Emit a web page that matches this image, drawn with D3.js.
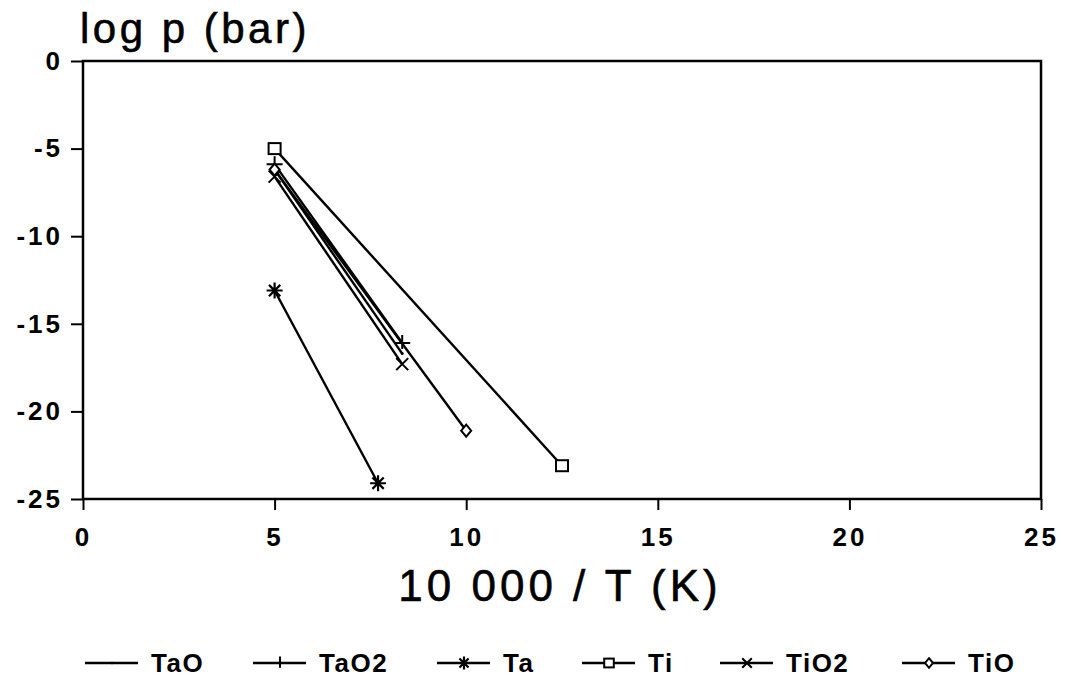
<!DOCTYPE html>
<html>
<head>
<meta charset="utf-8">
<script src="https://cdn.jsdelivr.net/npm/d3@7/dist/d3.min.js"></script>
<style>
  html, body { margin: 0; padding: 0; background: #fff; }
  svg { display: block; }
  text { font-family: "Liberation Sans", Arial, Helvetica, sans-serif; fill: #000; }
</style>
</head>
<body>
<svg id="chart" width="1067" height="681"></svg>
<script>
// Vapour pressure of Ta / Ti species vs reciprocal temperature
const seriesNames = ["TaO", "TaO2", "Ta", "Ti", "TiO2", "TiO"];
const invT_TaO  = [5, 8.33];   const logp_TaO  = [-6.2, -16.7];
const invT_TaO2 = [5, 8.33];   const logp_TaO2 = [-5.9, -16.1];
const invT_Ta   = [5, 7.7];    const logp_Ta   = [-13.1, -24.1];
const invT_Ti   = [5, 12.5];   const logp_Ti   = [-5.0, -23.1];
const invT_TiO2 = [5, 8.33];   const logp_TiO2 = [-6.6, -17.3];
const invT_TiO  = [5, 10];     const logp_TiO  = [-6.2, -21.1];
const markers   = ["dot", "plus", "asterisk", "square", "cross", "diamond"];
const xTicks = [0, 5, 10, 15, 20, 25];
const yTicks = [0, -5, -10, -15, -20, -25];

const xs = [invT_TaO, invT_TaO2, invT_Ta, invT_Ti, invT_TiO2, invT_TiO];
const ys = [logp_TaO, logp_TaO2, logp_Ta, logp_Ti, logp_TiO2, logp_TiO];
const series = seriesNames.map((name, i) => ({
  name, marker: markers[i],
  pts: xs[i].map((x, j) => ({ x, y: ys[i][j] }))
}));

const svg = d3.select("#chart");
const plot = { left: 83, right: 1041, top: 61, bottom: 499 };

const x = d3.scaleLinear().domain([0, 25]).range([plot.left, plot.right]);
const y = d3.scaleLinear().domain([-25, 0]).range([plot.bottom, plot.top]);

// Axes
const xAxis = d3.axisBottom(x).tickValues(xTicks).tickSize(11).tickPadding(22).tickFormat(d3.format("d"));
const yAxis = d3.axisLeft(y).tickValues(yTicks).tickSize(12).tickPadding(8).tickFormat(d => d === 0 ? "0" : "-" + Math.abs(d));

const gx = svg.append("g").attr("transform", `translate(0,${plot.bottom})`).call(xAxis);
const gy = svg.append("g").attr("transform", `translate(${plot.left},0)`).call(yAxis);
[gx, gy].forEach(g => {
  g.select(".domain").remove();
  g.selectAll(".tick line").attr("stroke", "#000").attr("stroke-width", 2);
  g.selectAll(".tick text")
    .style("font-size", "26px").style("font-weight", "bold")
    .style("letter-spacing", "3px").attr("fill", "#000");
});
gx.selectAll(".tick text").attr("dy", "0.55em");

// Frame
svg.append("rect")
  .attr("x", plot.left).attr("y", plot.top)
  .attr("width", plot.right - plot.left).attr("height", plot.bottom - plot.top)
  .attr("fill", "none").attr("stroke", "#000").attr("stroke-width", 2.5);

// Titles
svg.append("text").attr("x", 80).attr("y", 43)
  .style("font-size", "42px").style("letter-spacing", "3.5px")
  .style("stroke", "#000").style("stroke-width", "0.6px")
  .text("log p (bar)");
svg.append("text").attr("x", 560).attr("y", 601).attr("text-anchor", "middle")
  .style("font-size", "44px").style("letter-spacing", "4px")
  .style("stroke", "#000").style("stroke-width", "0.6px")
  .text("10 000 / T (K)");

// Marker drawing
function drawMarker(g, type, cx, cy, s) {
  const k = s || 1;
  const st = { stroke: "#000", "stroke-width": 2, fill: "none" };
  const put = (sel) => { Object.entries(st).forEach(([a, v]) => sel.attr(a, v)); return sel; };
  if (type === "square") {
    put(g.append("rect").attr("x", cx - 6 * k).attr("y", cy - 5.5 * k).attr("width", 12 * k).attr("height", 11 * k)).attr("fill", "#fff");
  } else if (type === "diamond") {
    put(g.append("path").attr("d", `M${cx},${cy - 6 * k}L${cx + 5 * k},${cy}L${cx},${cy + 6 * k}L${cx - 5 * k},${cy}Z`)).attr("fill", "#fff");
  } else if (type === "plus") {
    put(g.append("path").attr("d", `M${cx - 8 * k},${cy}H${cx + 8 * k}M${cx},${cy - 8 * k}V${cy + 6 * k}`));
  } else if (type === "cross") {
    put(g.append("path").attr("d", `M${cx - 6 * k},${cy - 6 * k}L${cx + 6 * k},${cy + 6 * k}M${cx + 6 * k},${cy - 6 * k}L${cx - 6 * k},${cy + 6 * k}`));
  } else if (type === "asterisk") {
    const r = 8 * k;
    let d = "";
    for (let a = 0; a < 4; a++) {
      const t = a * Math.PI / 4;
      d += `M${cx - r * Math.cos(t)},${cy - r * Math.sin(t)}L${cx + r * Math.cos(t)},${cy + r * Math.sin(t)}`;
    }
    put(g.append("path").attr("d", d)).attr("stroke-width", 2.2);
  } else if (type === "dot") {
    g.append("circle").attr("cx", cx).attr("cy", cy).attr("r", 1.5 * k).attr("fill", "#000");
  }
}

// Series lines and markers
const line = d3.line().x(d => x(d.x)).y(d => y(d.y));
const gData = svg.append("g");
series.forEach(s => {
  gData.append("path").datum(s.pts).attr("d", line)
    .attr("fill", "none").attr("stroke", "#000").attr("stroke-width", 2.4);
});
series.forEach(s => {
  s.pts.forEach(p => drawMarker(gData, s.marker, x(p.x), y(p.y), 1));
});

// Legend
const legendX = [85, 253, 437, 582, 720, 902];
const legendY = 663;
const gLeg = svg.append("g");
series.forEach((s, i) => {
  const x0 = legendX[i];
  gLeg.append("line").attr("x1", x0).attr("x2", x0 + 53).attr("y1", legendY).attr("y2", legendY)
    .attr("stroke", "#000").attr("stroke-width", 2.4);
  drawMarker(gLeg, s.marker, x0 + 27, legendY, 0.8);
  gLeg.append("text").attr("x", x0 + 66).attr("y", legendY).attr("dy", "0.36em")
    .style("font-size", "26px").style("font-weight", "bold").style("letter-spacing", "1.5px")
    .text(s.name);
});
</script>
</body>
</html>
